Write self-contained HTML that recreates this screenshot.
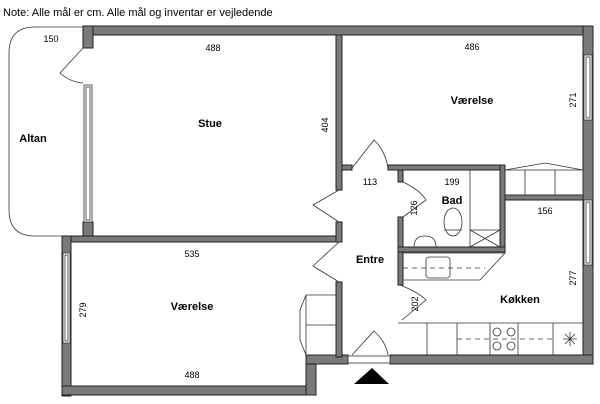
<!DOCTYPE html>
<html><head><meta charset="utf-8"><style>
body{margin:0;background:#fff}
svg{display:block}
text{font-family:"Liberation Sans",sans-serif;fill:#000}
.w{fill:#7a7a7a;stroke:#222;stroke-width:1}
.l{fill:none;stroke:#333;stroke-width:0.8}
.win{fill:#fff;stroke:#333;stroke-width:0.8}
</style></head><body>
<svg width="600" height="404" viewBox="0 0 600 404">
<text x="3" y="16" font-size="11">Note: Alle mål er cm. Alle mål og inventar er vejledende</text>
<!-- Altan -->
<path d="M83 27 H35 Q9 27 9 53 V210 Q9 236 35 236 H83" class="l" stroke-width="1"/>
<!-- walls -->
<rect class="w" x="83" y="26" width="510" height="9"/>
<rect class="w" x="583" y="26" width="10" height="338"/>
<rect class="w" x="83" y="26" width="10" height="22"/>
<rect class="w" x="83" y="222" width="10" height="20"/>
<rect class="w" x="62" y="236" width="280" height="6"/>
<rect class="w" x="62" y="236" width="9" height="160"/>
<rect class="w" x="62" y="386" width="254" height="9"/>
<rect class="w" x="306" y="355" width="10" height="40"/>
<rect class="w" x="306" y="355" width="42" height="9"/>
<rect class="w" x="390" y="355" width="203" height="9"/>
<rect class="w" x="336" y="35" width="6" height="155"/>
<rect class="w" x="336" y="222" width="6" height="20"/>
<rect class="w" x="336" y="282" width="6" height="75"/>
<rect class="w" x="342" y="165" width="10" height="5"/>
<rect class="w" x="388" y="165" width="117" height="5"/>
<rect class="w" x="398" y="170" width="5" height="12"/>
<rect class="w" x="398" y="217" width="5" height="68"/>
<rect class="w" x="500" y="165" width="5" height="87"/>
<rect class="w" x="398" y="247" width="107" height="5"/>
<rect class="w" x="505" y="195" width="78" height="5"/>
<!-- windows -->
<rect class="win" x="84" y="85" width="8" height="137"/>
<rect class="win" x="86" y="87" width="4" height="133"/>
<rect class="win" x="63" y="253" width="7" height="90"/>
<rect class="win" x="65" y="255" width="3" height="86"/>
<rect class="win" x="584" y="55" width="8" height="65"/>
<rect class="win" x="586" y="57" width="4" height="61"/>
<rect class="win" x="584" y="200" width="8" height="65"/>
<rect class="win" x="586" y="202" width="4" height="61"/>
<rect class="win" x="348" y="356" width="42" height="7"/>
<!-- doors -->
<path class="l" d="M83 48 L60 73 Q70 82 83 83"/>
<path class="l" d="M352 168 L374 140 Q385 150 388 168"/>
<path class="l" d="M339 190 L313 205 L339 222"/>
<path class="l" d="M339 242 L313 266 L339 282"/>
<path class="l" d="M403 182 Q420 190 426 200 L403 217"/>
<path class="l" d="M400 285 Q418 292 426 300 L402 320"/>
<path class="l" d="M352 355 L374 331 Q386 342 388 355"/>
<!-- entrance arrow -->
<polygon points="354,384 372,368 389,384" fill="#000"/>
<!-- wardrobes -->
<path class="l" d="M306 295 H336 V355 H306 Z M306 325 H336 M306 295 L300 310 L300 340 L306 355"/>
<path class="l" d="M505 170 H583 V195 H505 Z M525 170 V195 M555 170 V195 M505 170 L545 163 L583 170"/>
<!-- bad fixtures -->
<path class="l" d="M470 170 V247 M470 230 H500 M470 230 L500 247 M500 230 L470 247"/>
<ellipse class="l" cx="453" cy="222" rx="9" ry="14"/>
<path class="l" d="M444 230 H462"/>
<path class="l" d="M414 247 Q414 236 425 236 Q436 236 436 247"/>
<!-- kitchen -->
<path class="l" d="M403 253 H505 L480 280 H403"/>
<rect class="l" x="426" y="257" width="24" height="21" rx="3"/>
<path class="l" d="M403 268 H485" stroke-dasharray="5,4"/>
<path class="l" d="M398 323 H583 M427 323 V355 M457 323 V355 M490 323 V355 M518 323 V355 M553 323 V355"/>
<circle class="l" cx="497" cy="332" r="4"/><circle class="l" cx="511" cy="332" r="4"/>
<circle class="l" cx="497" cy="346" r="4"/><circle class="l" cx="511" cy="346" r="4"/>
<path class="l" d="M457 339 H553" stroke-dasharray="5,4"/>
<path class="l" d="M563 339 H577 M570 332 V346 M565 334 L575 344 M575 334 L565 344"/>
<!-- labels -->
<g font-size="11" font-weight="bold" text-anchor="middle">
<text x="210" y="127">Stue</text>
<text x="33" y="142">Altan</text>
<text x="472" y="104">Værelse</text>
<text x="192" y="310">Værelse</text>
<text x="370" y="263">Entre</text>
<text x="452" y="204">Bad</text>
<text x="520" y="303">Køkken</text>
</g>
<g font-size="9" text-anchor="middle">
<text x="51" y="42">150</text>
<text x="213" y="51">488</text>
<text x="472" y="50">486</text>
<text x="192" y="257">535</text>
<text x="192" y="378">488</text>
<text x="370" y="185">113</text>
<text x="452" y="185">199</text>
<text x="545" y="214">156</text>
<text transform="translate(328,125) rotate(-90)">404</text>
<text transform="translate(576,100) rotate(-90)">271</text>
<text transform="translate(86,310) rotate(-90)">279</text>
<text transform="translate(576,278) rotate(-90)">277</text>
<text transform="translate(417,208) rotate(-90)">126</text>
<text transform="translate(418,304) rotate(-90)">202</text>
</g>
</svg>
</body></html>
